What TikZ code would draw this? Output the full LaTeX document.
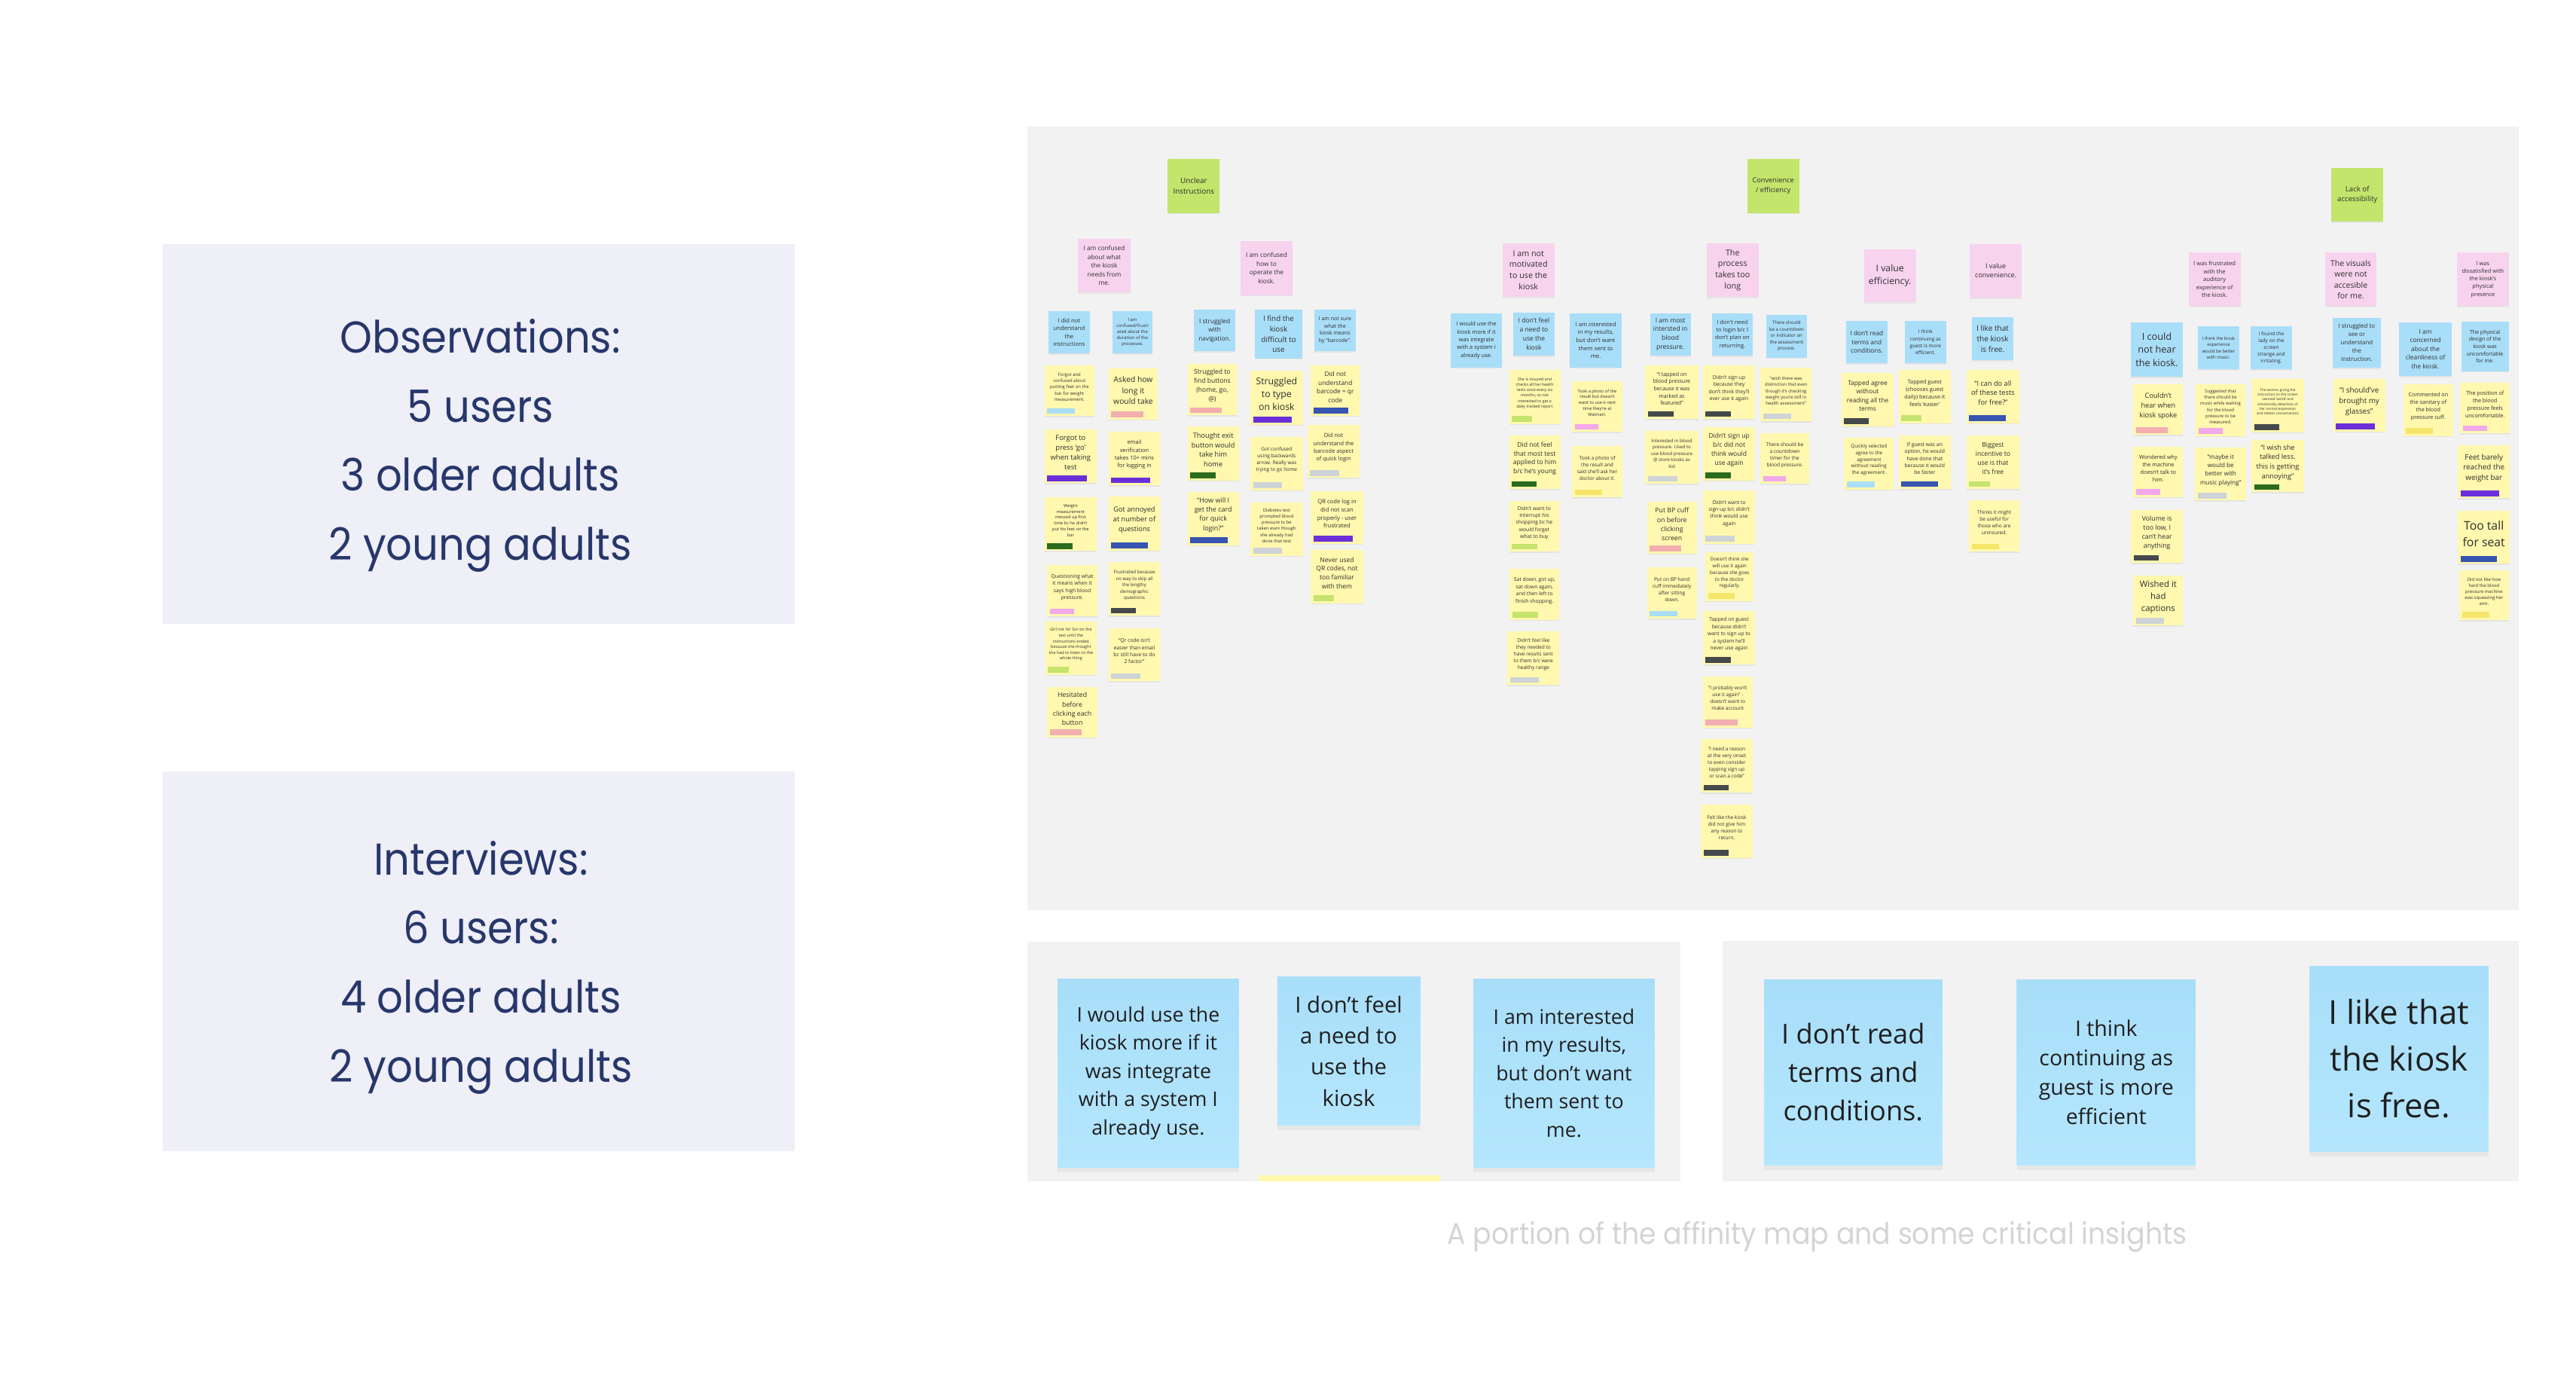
\documentclass[tikz,border=0pt]{standalone}
\usepackage{fontspec}
\setmainfont{Open Sans}
\newfontfamily\popfont[FakeStretch=0.92]{Poppins}
\usetikzlibrary{shadows}

\definecolor{boardgray}{HTML}{F2F2F2}
\definecolor{infobg}{HTML}{EEEFF7}
\definecolor{navy}{HTML}{27376B}
\definecolor{capgray}{HTML}{D4D4D4}
\definecolor{noteyellow}{HTML}{FFF8AE}
\definecolor{notepink}{HTML}{F8D3EE}
\definecolor{noteblue}{HTML}{A9DEF9}
\definecolor{notebluelight}{HTML}{B4E7FE}
\definecolor{notegreen}{HTML}{C3E56C}
\definecolor{inkgray}{HTML}{2E2E2E}
% tag colours
\definecolor{tlblue}{HTML}{ABDDF7}
\definecolor{tpurple}{HTML}{6A2FD8}
\definecolor{tdgreen}{HTML}{2A6B1E}
\definecolor{tpink}{HTML}{F2A8EA}
\definecolor{tlime}{HTML}{C5E36D}
\definecolor{tsalmon}{HTML}{F3AEB0}
\definecolor{tblue}{HTML}{3654B0}
\definecolor{tdgray}{HTML}{46494C}
\definecolor{tlgray}{HTML}{CED3D7}
\definecolor{tyellow}{HTML}{F5E56B}

\tikzset{
  note/.style={inner sep=0pt, outer sep=0pt, anchor=north west,
    drop shadow={shadow xshift=0pt, shadow yshift=-0.7pt, opacity=0.12}},
  bignote/.style={inner sep=0pt, outer sep=0pt, anchor=north west,
    top color=noteblue, bottom color=notebluelight,
    drop shadow={shadow xshift=0pt, shadow yshift=-3pt, opacity=0.10}},
  notetext/.style={align=center, inner sep=0pt, text=inkgray},
  infotext/.style={align=center, inner sep=0pt, text=navy,
    font=\popfont\fontsize{27}{41.8}\selectfont}
}

\begin{document}
\begin{tikzpicture}[x=1pt,y=-1pt]
	\useasboundingbox (0,0) rectangle (1560,843);
	\fill[white] (0,0) rectangle (1560,843);

	% research summary
	\fill[infobg] (98.6,147.8) rectangle (481.4,377.5);
	\node[infotext] (obs) at (290.9,269.8) {Observations:\\5 users\\3 older adults\\2 young adults};
	\fill[infobg] (98.6,467.1) rectangle (481.4,696.8);
	\node[infotext] (itv) at (291.2,585.7) {Interviews:\\6 users:\\4 older adults\\2 young adults};

	% boards
	\fill[boardgray] (622.2,76.5) rectangle (1525.2,550.8);
	\fill[boardgray] (622.2,570) rectangle (1017.8,715);
	\fill[boardgray] (1043.2,569.5) rectangle (1525.3,715);
	\fill[noteyellow] (762.3,711.6) rectangle (872.2,715);

	% headers, insights and quotes
	\foreach \nm/\px/\py/\pw/\ph/\fs/\col/\txt in {
		g1/707.1/96.4/31.6/32.6/4.5/notegreen/{Unclear\\Instructions},
		g2/1058.1/96.4/31.4/32.6/4.2/notegreen/{Convenience\\/ efficiency},
		g3/1411.9/101.5/31.4/32.6/4.4/notegreen/{Lack of\\accessibility},
		p1/652.9/144.6/31.6/32.6/3.8/notepink/{I am confused\\about what\\the kiosk\\needs from\\me.},
		p2/751.3/146.0/31.4/32.6/3.8/notepink/{I am confused\\how to\\operate the\\kiosk.},
		p3/909.8/147.3/31.6/32.5/4.9/notepink/{I am not\\motivated\\to use the\\kiosk},
		p4/1033.5/147.3/31.5/32.5/4.9/notepink/{The\\process\\takes too\\long},
		p5/1128.8/151.0/31.5/32.0/5.6/notepink/{I value\\efficiency.},
		p6/1192.9/147.7/31.4/32.5/4.1/notepink/{I value\\convenience.},
		p7/1325.4/153.0/31.4/32.4/3.5/notepink/{I was frustrated\\with the\\auditory\\experience of\\the kiosk.},
		p8/1408.1/153.0/31.0/32.4/4.8/notepink/{The visuals\\were not\\accesible\\for me.},
		p9/1488.0/153.0/31.2/32.4/3.4/notepink/{I was\\dissatisfied with\\the kiosk’s\\physical\\presence},
		b1/635.0/188.4/24.9/25.6/3.5/noteblue/{I did not\\understand\\the\\instructions},
		b2/673.5/188.4/24.6/25.6/2.7/noteblue/{I am\\confused/frustr\\ated about the\\duration of the\\processes.},
		b3/723.2/187.3/24.8/25.3/3.8/noteblue/{I struggled\\with\\navigation.},
		b4/759.8/187.7/29.0/29.3/4.5/noteblue/{I find the\\kiosk\\difficult to\\use},
		b5/795.9/187.3/25.1/25.3/3.2/noteblue/{I am not sure\\what the\\kiosk means\\by “barcode”.},
		b6/878.6/189.6/31.0/32.8/3.4/noteblue/{I would use the\\kiosk more if it\\was integrate\\with a system I\\already use.},
		b7/916.4/189.2/25.0/26.1/3.9/noteblue/{I don’t feel\\a need to\\use the\\kiosk},
		b8/950.6/189.6/31.5/32.8/3.5/noteblue/{I am interested\\in my results,\\but don’t want\\them sent to\\me.},
		b9/999.2/189.6/24.7/25.7/3.9/noteblue/{I am most\\intersted in\\blood\\pressure.},
		b10/1036.7/189.6/24.7/25.7/3.4/noteblue/{I don’t need\\to login b/c I\\don’t plan on\\returning.},
		b11/1069.7/190.5/24.4/26.0/2.8/noteblue/{There should\\be a countdown\\or indicator on\\the assessment\\process.},
		b12/1118.0/194.3/25.0/25.7/3.8/noteblue/{I don’t read\\terms and\\conditions.},
		b13/1153.6/194.3/24.9/25.7/3.0/noteblue/{I think\\continuing as\\guest is more\\efficient.},
		b14/1194.3/192.2/24.9/26.0/4.6/noteblue/{I like that\\the kiosk\\is free.},
		b15/1290.4/195.4/31.5/32.7/5.8/noteblue/{I could\\not hear\\the kiosk.},
		b16/1331.1/197.6/24.9/26.1/2.7/noteblue/{I think the kiosk\\experience\\would be better\\with music.},
		b17/1363.1/197.6/24.7/26.1/3.0/noteblue/{I found the\\lady on the\\screen\\strange and\\irritating.},
		b18/1412.5/192.3/29.4/30.3/3.6/noteblue/{I struggled to\\see or\\understand\\the\\instruction.},
		b19/1453.0/195.2/31.6/32.5/3.8/noteblue/{I am\\concerned\\about the\\cleanliness of\\the kiosk.},
		b20/1490.5/194.8/28.7/29.9/3.2/noteblue/{The physical\\design of the\\kiosk was\\uncomfortable\\for me.}}{
		\node[note, fill=\col, minimum width=\pw pt, minimum height=\ph pt] (\nm) at (\px,\py) {};
		\pgfmathsetmacro\ls{1.38*\fs}
		\node[notetext, font=\fontsize{\fs}{\ls}\selectfont] (\nm-txt) at (\px+\pw/2,\py+\ph/2) {\txt};
	}

	% observation notes with their participant tag
	\foreach \nm/\px/\py/\pw/\ph/\fs/\tcol/\tlen/\txt in {
		y1/632.6/221.0/30.1/30.9/2.7/tlblue/16.7/{Forgot and\\confused about\\putting feet on the\\bar for weight\\measurement.},
		y2/632.6/260.1/31.5/32.5/4.3/tpurple/23.8/{Forgot to\\press ‘go’\\when taking\\test},
		y3/632.6/301.1/31.5/32.5/2.6/tdgreen/15.3/{Weight\\measurement\\messed up first\\time bc he didn’t\\put his feet on the\\bar},
		y4/634.2/342.3/30.3/30.9/3.1/tpink/14.5/{Questioning what\\it means when it\\says high blood\\pressure.},
		y5/633.0/376.3/31.1/32.3/2.5/tlime/12.6/{Girl not hit ‘Go’ on the\\test until the\\instructions ended\\because she thought\\she had to listen to the\\whole thing},
		y6/634.2/416.0/30.3/30.5/4.0/tsalmon/19.1/{Hesitated\\before\\clicking each\\button},
		y7/671.3/223.1/29.9/30.9/4.7/tsalmon/19.6/{Asked how\\long it\\would take},
		y8/671.3/261.2/31.3/32.6/3.4/tpurple/23.6/{email\\verification\\takes 10+ mins\\for logging in},
		y9/671.3/300.8/31.3/32.5/4.2/tblue/22.4/{Got annoyed\\at number of\\questions},
		y10/671.3/340.5/31.3/32.3/2.8/tdgray/15.1/{Frustrated because\\no way to skip all\\the lengthy\\demographic\\questions},
		y11/671.3/380.5/31.3/32.0/3.1/tlgray/17.5/{“Qr code isn’t\\easier than email\\bc still have to do\\2 factor”},
		y12/719.1/220.1/30.0/31.3/3.9/tsalmon/19.3/{Struggled to\\find buttons\\(home, go,\\@)},
		y13/719.1/258.4/31.2/32.4/4.2/tdgreen/15.5/{Thought exit\\button would\\take him\\home},
		y14/719.1/297.8/31.2/32.3/4.1/tblue/22.6/{“How will I\\get the card\\for quick\\login?”},
		y15/757.2/224.5/31.8/32.7/5.6/tpurple/23.6/{Struggled\\to type\\on kiosk},
		y16/757.2/264.5/31.8/32.3/3.0/tlgray/17.5/{Got confused\\using backwards\\arrow. Really was\\trying to go home},
		y17/757.2/304.3/31.8/32.3/2.7/tlgray/17.5/{Diabetes test\\prompted blood\\pressure to be\\taken even though\\she already had\\done that test},
		y18/793.9/221.4/29.5/30.2/3.8/tblue/20.8/{Did not\\understand\\barcode = qr\\code},
		y19/791.8/257.2/31.6/32.2/3.4/tlgray/17.5/{Did not\\understand the\\barcode aspect\\of quick login},
		y20/793.9/297.3/31.5/31.9/3.5/tpurple/23.8/{QR code log in\\did not scan\\properly - user\\frustrated},
		y21/793.9/333.0/31.5/32.3/3.9/tlime/12.4/{Never used\\QR codes, not\\too familiar\\with them},
		y22/913.9/224.0/31.0/32.6/2.4/tlime/12.4/{She is insured and\\checks all her health\\tests once every six\\months, so not\\interested to get a\\daily tracked report},
		y23/913.9/263.8/31.0/32.3/3.9/tdgreen/15.1/{Did not feel\\that most test\\applied to him\\b/c he’s young},
		y24/913.9/303.4/30.4/30.6/3.1/tlime/15.5/{Didn’t want to\\interrupt his\\shopping bc he\\would forget\\what to buy},
		y25/914.3/344.4/30.0/30.9/3.1/tlime/15.5/{Sat down, got up,\\sat down again,\\and then left to\\finish shopping.},
		y26/912.9/382.4/31.4/32.3/3.0/tlgray/17.5/{Didn’t feel like\\they needed to\\have results sent\\to them b/c were\\healthy range},
		y27/952.0/230.6/30.5/30.9/2.6/tpink/14.5/{Took a photo of the\\result but doesn’t\\want to use it next\\time they’re at\\Walmart.},
		y28/952.0/270.2/30.5/30.9/3.0/tyellow/16.7/{Took a photo of\\the result and\\said she’ll ask her\\doctor about it.},
		y29/996.4/221.4/32.0/32.3/3.2/tdgray/15.5/{“I tapped on\\blood pressure\\because it was\\marked as\\featured”},
		y30/996.4/260.8/32.0/32.1/2.8/tlgray/17.7/{Interested in blood\\pressure. Used to\\use blood pressure\\@ store kiosks as\\kid},
		y31/997.4/303.9/30.2/31.3/4.0/tsalmon/19.1/{Put BP cuff\\on before\\clicking\\screen},
		y32/997.4/343.5/30.2/31.1/3.0/tlblue/16.7/{Put on BP hand\\cuff immediately\\after sitting\\down.},
		y33/1031.2/221.4/31.8/32.3/3.1/tdgray/15.5/{Didn’t sign up\\because they\\don’t think they’ll\\ever use it again},
		y34/1031.2/258.5/31.8/32.3/3.9/tdgreen/15.5/{Didn’t sign up\\b/c did not\\think would\\use again},
		y35/1031.2/296.8/31.8/32.5/3.1/tlgray/17.7/{Didn’t want to\\sign up b/c didn’t\\think would use\\again},
		y36/1032.8/334.3/29.2/29.6/2.9/tyellow/16.1/{Doesn’t think she\\will use it again\\because she goes\\to the doctor\\regularly.},
		y37/1031.2/370.1/31.8/32.4/3.1/tdgray/15.5/{Tapped on guest\\because didn’t\\want to sign up to\\a system he’ll\\never use again},
		y38/1031.2/409.5/30.2/30.9/3.0/tsalmon/19.3/{“I probably won’t\\use it again” -\\doesn’t want to\\make account},
		y39/1030.0/447.6/31.4/32.4/3.0/tdgray/15.1/{“I need a reason\\at the very onset\\to even consider\\tapping sign up\\or scan a code”},
		y40/1030.0/487.0/31.4/32.5/3.0/tdgray/15.1/{Felt like the kiosk\\did not give him\\any reason to\\return.},
		y41/1066.0/222.8/31.2/32.3/2.7/tlgray/17.3/{“wish there was\\distinction that even\\though it’s checking\\weight you’re still in\\health assessment”},
		y42/1066.0/262.4/29.6/30.5/3.0/tpink/14.1/{There should be\\a countdown\\timer for the\\blood pressure.},
		y43/1115.1/225.7/31.8/32.3/3.8/tdgray/15.1/{Tapped agree\\without\\reading all the\\terms},
		y44/1116.8/265.0/30.1/31.4/2.9/tlblue/16.7/{Quickly selected\\agree to the\\agreement\\without reading\\the agreement.},
		y45/1149.7/224.0/31.8/32.3/3.3/tlime/12.4/{Tapped guest\\(chooses guest\\daily) because it\\feels ‘easier’},
		y46/1149.7/263.6/31.8/32.5/3.1/tblue/22.4/{If guest was an\\option, he would\\have done that\\because it would\\be faster},
		y47/1190.9/224.0/32.0/32.3/4.2/tblue/22.4/{“I can do all\\of these tests\\for free?”},
		y48/1190.9/263.6/32.0/32.5/3.9/tlime/12.4/{Biggest\\incentive to\\use is that\\it’s free},
		y49/1192.5/303.1/30.4/30.9/3.0/tyellow/16.7/{Thinks it might\\be useful for\\those who are\\uninsured.},
		y50/1291.9/232.8/30.2/30.6/4.2/tsalmon/19.3/{Couldn’t\\hear when\\kiosk spoke},
		y51/1291.9/270.5/30.2/30.5/3.3/tpink/14.7/{Wondered why\\the machine\\doesn’t talk to\\him.},
		y52/1290.4/308.6/31.7/32.2/4.0/tdgray/15.1/{Volume is\\too low, I\\can’t hear\\anything},
		y53/1291.9/348.3/30.2/30.5/5.2/tlgray/16.8/{Wished it\\had\\captions},
		y54/1329.8/232.8/29.8/31.2/2.7/tpink/14.7/{Suggested that\\there should be\\music while waiting\\for the blood\\pressure to be\\measured.},
		y55/1329.2/270.9/31.2/32.2/3.7/tlgray/17.4/{“maybe it\\would be\\better with\\music playing”},
		y56/1363.5/229.4/31.7/32.3/2.1/tdgray/15.3/{The woman giving the\\instruction on the screen\\seemed ‘weird’ and\\emotionally detached, of\\her normal expression\\and robotic conversations},
		y57/1363.5/266.4/31.7/31.6/4.2/tdgreen/15.3/{“I wish she\\talked less.\\this is getting\\annoying”},
		y58/1413.0/229.4/31.4/31.9/4.5/tpurple/23.7/{“I should’ve\\brought my\\glasses”},
		y59/1455.5/232.8/30.1/31.2/3.3/tyellow/16.3/{Commented on\\the sanitary of\\the blood\\pressure cuff.},
		y60/1489.8/231.8/30.2/30.6/3.3/tpink/14.7/{The position of\\the blood\\pressure feels\\uncomfortable.},
		y61/1488.4/269.5/31.6/32.2/4.5/tpurple/23.5/{Feet barely\\reached the\\weight bar},
		y62/1488.4/309.2/31.6/32.2/7.2/tblue/22.0/{Too tall\\for seat},
		y63/1489.4/345.2/29.8/30.2/2.7/tyellow/16.5/{Did not like how\\hard the blood\\pressure machine\\was squeezing her\\arm.}}{
		\node[note, fill=noteyellow, minimum width=\pw pt, minimum height=\ph pt] (\nm) at (\px,\py) {};
		\fill[\tcol] (\px+1.6,\py+\ph-1.3) rectangle ++(\tlen,-3.5);
		\pgfmathsetmacro\ls{1.38*\fs}
		\node[notetext, font=\fontsize{\fs}{\ls}\selectfont] (\nm-txt) at (\px+\pw/2,\py+0.43*\ph) {\txt};
	}

	% critical insights
	\foreach \nm/\px/\py/\pw/\ph/\fs/\ls/\txt in {
		n1/640.5/592.7/109.7/114.0/12.2/17.1/{I would use the\\kiosk more if it\\was integrate\\with a system I\\already use.},
		n2/773.5/591.5/86.5/89.7/13.4/18.8/{I don’t feel\\a need to\\use the\\kiosk},
		n3/892.2/592.7/109.9/114.0/12.2/17.1/{I am interested\\in my results,\\but don’t want\\them sent to\\me.},
		n4/1068.2/593.3/108.1/111.9/16.5/23.2/{I don’t read\\terms and\\conditions.},
		n5/1221.4/593.3/108.2/111.9/13.0/17.7/{I think\\continuing as\\guest is more\\efficient},
		n6/1398.7/585.1/108.2/112.0/20.0/28.3/{I like that\\the kiosk\\is free.}}{
		\node[bignote, minimum width=\pw pt, minimum height=\ph pt] (\nm) at (\px,\py) {};
		\node[notetext, text=black!88, font=\fontsize{\fs}{\ls}\selectfont] (\nm-txt) at (\px+\pw/2,\py+\ph/2) {\txt};
	}

	\node[anchor=base, inner sep=0pt, text=capgray, font=\popfont\fontsize{18}{22}\selectfont] (caption) at (1100.5,753.4) {A portion of the affinity map and some critical insights};
\end{tikzpicture}
\end{document}
